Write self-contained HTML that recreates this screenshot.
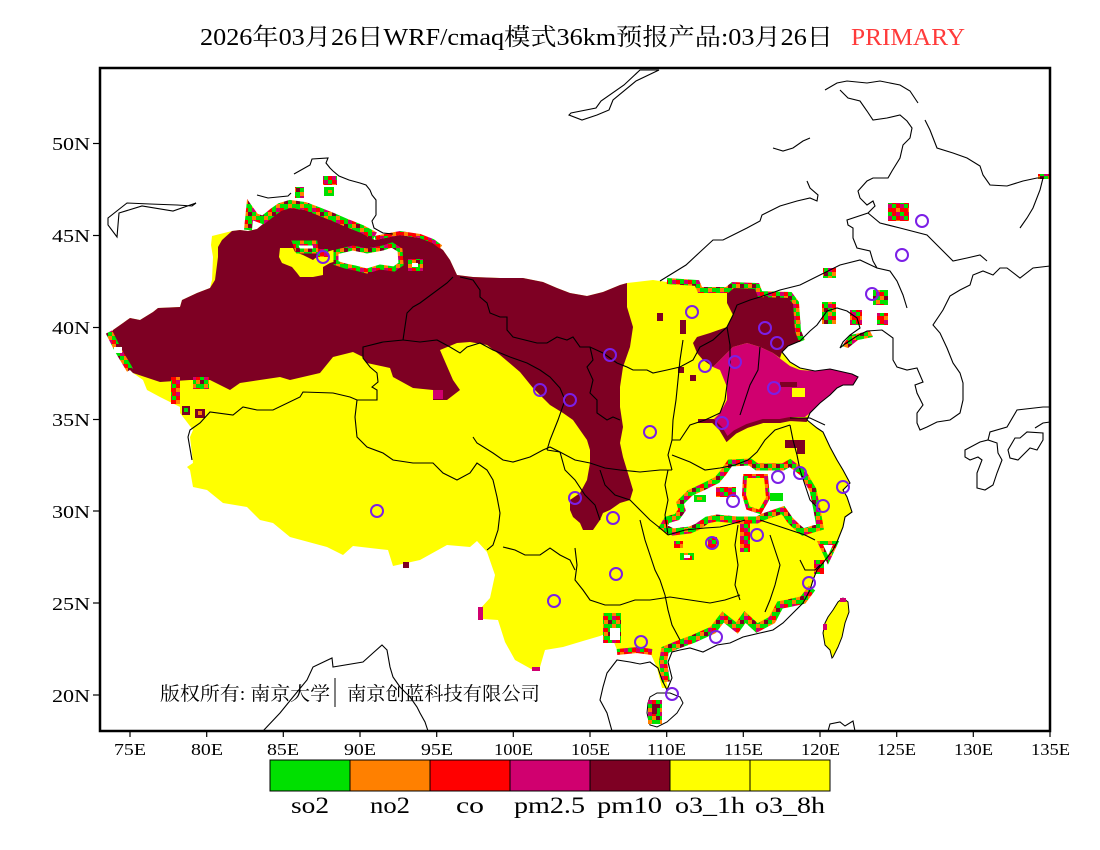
<!DOCTYPE html>
<html><head><meta charset="utf-8"><style>
html,body{margin:0;padding:0;background:#fff;}
svg{display:block;}
</style></head><body>
<svg width="1100" height="850" viewBox="0 0 1100 850" xmlns="http://www.w3.org/2000/svg">
<defs>
<pattern id="fr" width="12" height="12" patternUnits="userSpaceOnUse">
<rect width="12" height="12" fill="#00e000"/>
<rect x="0" y="0" width="4" height="4" fill="#ff8000"/>
<rect x="8" y="0" width="4" height="4" fill="#00e000"/>
<rect x="0" y="4" width="4" height="4" fill="#d0006f"/>
<rect x="4" y="4" width="4" height="4" fill="#ff0000"/>
<rect x="4" y="8" width="4" height="4" fill="#ff8000"/>
<rect x="8" y="8" width="4" height="4" fill="#7e0023"/>
</pattern>
<pattern id="fr2" width="12" height="12" patternUnits="userSpaceOnUse">
<rect width="12" height="12" fill="#ff0000"/>
<rect x="0" y="0" width="4" height="4" fill="#d0006f"/>
<rect x="4" y="0" width="4" height="4" fill="#00e000"/>
<rect x="8" y="4" width="4" height="4" fill="#ff8000"/>
<rect x="0" y="8" width="4" height="4" fill="#00e000"/>
<rect x="8" y="8" width="4" height="4" fill="#d0006f"/>
</pattern>
</defs>

<!-- outer colored region (yellow o3) -->
<polygon fill="#ffff00" points="110,338 113,330 123,323 130,318 140,320 153,312 158,308 180,307 182,300 197,293 210,288 212,280 213,257 211,245 212,236 232,231 240,230 248,231 257,229 263,224 273,216 280,211 290,208 305,210 318,215 333,221 347,227 362,233 375,240 390,237 400,235 420,238 433,243 443,250 450,260 457,275 473,277 500,278 523,278 543,282 557,288 570,293 587,296 603,292 620,285 627,283 653,280 667,282 697,284 700,291 727,291 733,286 757,287 761,296 790,297 795,304 797,331 800,341 788,346 782,352 790,362 800,368 815,371 830,369 852,374 858,377 853,385 843,385 837,388 830,395 820,403 810,413 807,420 817,428 823,432 830,447 837,460 843,470 850,483 843,490 847,497 852,512 845,517 843,527 837,542 833,550 823,563 817,570 813,580 810,590 803,598 790,600 780,602 772,617 757,625 745,614 737,625 723,614 713,627 693,636 677,642 665,647 662,660 666,680 668,688 662,688 657,668 650,652 637,648 617,650 610,632 600,636 583,641 563,647 545,650 540,667 533,670 515,660 505,642 498,620 483,619 479,610 490,598 495,575 487,552 477,541 470,547 447,545 420,560 393,566 388,550 353,546 343,555 327,547 290,537 273,523 260,520 247,507 223,503 207,490 193,487 190,470 187,467 193,463 190,437 193,430 180,413 180,407 160,397 147,390 143,380 133,373 127,367 113,343"/>
<polygon fill="#ffff00" points="246,222 248,208 251,207 252,222"/>

<!-- pm10 dark red main -->
<polygon fill="#7e0023" points="110,338 113,330 123,323 130,318 140,320 153,312 158,308 180,307 182,300 197,293 210,288 215,280 218,257 218,247 222,240 232,231 240,230 248,231 257,229 263,224 273,216 280,211 290,208 305,210 318,215 333,221 347,227 362,233 375,240 390,237 400,235 420,238 433,243 443,250 450,260 457,275 473,277 500,278 523,278 543,282 557,288 570,293 587,296 603,292 620,285 627,283 627,307 633,327 630,347 623,367 620,387 620,407 623,427 620,443 623,457 630,480 633,490 630,500 620,503 610,510 603,513 600,520 593,530 583,530 580,523 573,517 570,510 570,500 580,493 587,480 590,463 590,450 587,440 580,430 573,420 563,413 550,405 533,388 520,372 500,355 487,345 470,342 457,343 440,350 443,357 453,380 460,390 447,400 433,400 433,390 413,388 393,377 390,368 367,363 363,357 353,352 333,357 320,373 290,380 280,377 240,383 230,390 210,380 190,380 160,382 133,373 127,367 113,343"/>
<rect x="433" y="390" width="10" height="9" fill="#d0006f"/>

<!-- Junggar yellow & holes -->
<polygon fill="#ffff00" points="280,248 293,248 295,252 303,255 313,260 318,256 316,252 327,252 333,250 350,250 352,255 340,260 330,263 323,267 323,275 313,277 300,277 297,273 292,267 282,263 279,257"/>
<polygon fill="#fff" stroke="url(#fr)" stroke-width="5" points="336,252 353,248 367,251 383,248 392,245 400,250 401,264 394,269 380,267 367,271 355,268 345,266 336,263"/>
<polygon fill="#fff" stroke="url(#fr)" stroke-width="5" points="295,243 315,243 316,251 298,251"/>
<rect x="408" y="259" width="15" height="12" fill="url(#fr)"/>
<rect x="412" y="263" width="6" height="4" fill="#fff"/>
<rect x="318" y="249" width="10" height="8" fill="url(#fr2)"/>
<!-- north fringe -->
<polyline fill="none" stroke="url(#fr)" stroke-width="8" points="248,230 250,210 255,217 263,220 273,212 280,207 290,204 305,206 318,211 333,217 347,223 362,229 375,236"/>
<polyline fill="none" stroke="url(#fr2)" stroke-width="4" points="375,238 390,235 400,233 420,236 433,241 441,247"/>
<rect x="295" y="187" width="9" height="11" fill="url(#fr)"/>
<rect x="323" y="176" width="14" height="9" fill="url(#fr2)"/>
<rect x="324" y="187" width="10" height="9" fill="#00e000"/>
<rect x="328" y="190" width="4" height="3" fill="#ff8000"/>
<!-- west tip fringe -->
<polyline fill="none" stroke="url(#fr)" stroke-width="7" points="109,332 113,340 118,350 124,360 130,370"/>
<rect x="114" y="347" width="8" height="6" fill="#fff"/>
<rect x="171" y="377" width="9" height="27" fill="url(#fr2)"/>
<rect x="182" y="406" width="8" height="9" fill="#7e0023"/>
<rect x="184" y="408" width="4" height="4" fill="#00e000"/>
<rect x="193" y="377" width="16" height="12" fill="url(#fr)"/>
<rect x="195" y="409" width="10" height="9" fill="#7e0023"/>
<rect x="198" y="411" width="4" height="4" fill="#ff8000"/>
<rect x="403" y="562" width="6" height="6" fill="#7e0023"/>
<rect x="478" y="607" width="5" height="13" fill="#d0006f"/>
<rect x="532" y="667" width="8" height="4" fill="#d0006f"/>

<!-- NE pm10 -->
<polygon fill="#7e0023" points="727,291 733,286 757,287 761,296 790,297 795,304 797,331 800,341 788,346 782,352 780,358 773,353 760,347 747,343 733,347 723,357 713,367 703,360 697,353 693,343 697,337 710,333 727,327 733,315 727,303"/>
<rect x="657" y="313" width="6" height="8" fill="#7e0023"/>
<rect x="680" y="320" width="6" height="14" fill="#7e0023"/>
<rect x="678" y="367" width="6" height="6" fill="#7e0023"/>
<rect x="690" y="375" width="6" height="6" fill="#7e0023"/>
<!-- magenta pm2.5 -->
<polygon fill="#d0006f" points="723,357 733,347 747,343 760,347 773,353 782,360 790,366 800,370 815,371 830,369 852,374 858,377 853,385 843,385 837,388 830,395 820,403 810,413 805,417 790,417 780,420 763,420 747,427 735,433 727,440 720,430 713,420 720,413 727,400 727,387 720,370 713,367"/>
<polyline fill="none" stroke="#7e0023" stroke-width="4" points="698,421 713,421 721,429 727,439 735,432 747,426 763,421 780,421 790,419 807,420"/>
<rect x="780" y="382" width="17" height="5" fill="#7e0023"/>
<rect x="792" y="388" width="13" height="9" fill="#ffff00"/>
<rect x="785" y="440" width="20" height="8" fill="#7e0023"/>
<rect x="797" y="448" width="8" height="6" fill="#7e0023"/>
<!-- NE fringe -->
<polyline fill="none" stroke="url(#fr)" stroke-width="6" points="667,281 697,283 700,290 727,290 733,285 757,286 760,294 790,295 796,303 798,331 802,341"/>
<rect x="823" y="268" width="13" height="10" fill="url(#fr)"/>
<rect x="888" y="203" width="21" height="18" fill="url(#fr2)"/>
<rect x="873" y="290" width="15" height="15" fill="url(#fr)"/>
<rect x="877" y="313" width="11" height="12" fill="url(#fr2)"/>
<rect x="822" y="302" width="14" height="22" fill="url(#fr)"/>
<rect x="850" y="310" width="12" height="15" fill="url(#fr2)"/>
<polygon fill="url(#fr)" points="842,346 850,335 870,331 873,337 858,340 848,348"/>
<rect x="1038" y="174" width="12" height="5" fill="url(#fr)"/>

<!-- Yangtze white areas -->
<polygon fill="#fff" stroke="url(#fr)" stroke-width="7" points="730,463 750,462 757,467 783,467 790,463 803,473 813,490 817,510 820,527 803,532 797,527 790,520 783,510 763,517 757,520 737,520 717,518 707,520 697,527 690,530 673,532 663,527 667,520 677,517 682,510 680,503 690,493 703,487 717,480 723,473"/>
<polygon fill="#ffff00" stroke="url(#fr2)" stroke-width="4" points="745,476 766,476 768,498 760,512 748,508 744,495"/>
<rect x="716" y="487" width="20" height="10" fill="url(#fr2)"/>
<rect x="694" y="495" width="12" height="7" fill="#00e000"/>
<rect x="770" y="493" width="13" height="8" fill="#00e000"/>
<rect x="697" y="497" width="5" height="3" fill="#ff8000"/>
<polygon fill="#fff" stroke="url(#fr)" stroke-width="4" points="820,543 836,543 828,560"/>
<rect x="814" y="560" width="10" height="14" fill="url(#fr2)"/>
<rect x="740" y="520" width="10" height="32" fill="url(#fr2)"/>
<rect x="680" y="553" width="14" height="7" fill="url(#fr)"/>
<rect x="684" y="555" width="6" height="3" fill="#fff"/>
<rect x="674" y="541" width="9" height="7" fill="url(#fr2)"/>
<rect x="708" y="537" width="9" height="11" fill="url(#fr2)"/>
<rect x="603" y="613" width="18" height="30" fill="url(#fr)"/>
<rect x="610" y="628" width="10" height="12" fill="#fff"/>
<!-- south coast fringe -->
<polyline fill="none" stroke="url(#fr)" stroke-width="8" points="812,588 803,600 790,603 780,605 772,620 757,628 745,617 737,628 723,617 713,630 693,639 677,645 665,650 663,662 666,682"/>
<polyline fill="none" stroke="url(#fr2)" stroke-width="6" points="652,652 637,650 617,652"/>

<!-- Taiwan -->
<polygon fill="#ffff00" stroke="#000" stroke-width="1" points="843,598 848,602 849,612 845,623 842,637 838,647 833,657 832,658 830,650 825,645 823,633 825,623 828,617 833,610 838,602"/>
<rect x="840" y="598" width="6" height="4" fill="#d0006f"/>
<rect x="823" y="624" width="4" height="6" fill="#d0006f"/>
<!-- Hainan -->
<polygon fill="#fff" stroke="#000" stroke-width="1" points="648,703 650,697 657,693 670,693 680,697 683,703 677,713 667,722 657,727 650,725 647,713"/>
<rect x="648" y="700" width="14" height="24" fill="url(#fr)"/>
<rect x="652" y="704" width="5" height="10" fill="#7e0023"/>

<!-- black lines -->
<g fill="none" stroke="#000" stroke-width="1.1">
<polyline points="800,341 788,346 782,352 790,362 800,368 815,371 830,369 852,374 858,377 853,385 843,385 837,388 830,395 820,403 810,413 807,420 817,428 823,432 830,447 837,460 843,470 850,483 843,490 847,497 852,512 845,517 843,527 837,542 833,550 823,563 817,570 813,580 810,590 803,603 793,613 783,623 773,630 760,633 743,637 730,643 717,645 703,652 690,648 680,650 672,652 668,662 672,678 667,690 662,680 658,668 650,662 640,664 630,662 617,660 607,673 603,687 600,700 607,713 612,731"/>
<polyline points="800,341 810,331 817,325 827,311 837,308 847,311 857,318 860,328 850,335 843,342 840,348 845,344 857,336 867,331 882,330 893,338 893,360 897,367 907,370 917,368 923,382 915,385 917,393 923,405 917,413 917,423 920,430 927,427 937,422 950,420 960,413 963,400 963,383 960,373 953,363 947,348 940,333 933,325 943,310 950,296 960,290 970,285 973,275 983,271 993,275 1000,268 1007,268 1020,278 1033,268 1050,266"/>
<polygon points="965,450 980,442 988,440 997,443 998,453 1002,460 997,473 993,485 985,490 977,488 977,473 982,460 978,457 970,460 965,457"/>
<polyline points="988,440 990,432 1007,427 1017,410 1043,407 1050,407"/>
<polygon points="1008,450 1010,458 1018,460 1030,448 1037,450 1043,440 1043,433 1027,432 1020,438 1015,438"/>
<polyline points="1050,422 1043,423 1035,428"/>
<polyline points="828,731 830,724 840,722 845,726 853,721 855,731"/>
<polyline points="263,731 280,713 293,697 307,680 313,667 332,658 333,667 363,662 373,653 382,645 387,650 390,667 393,677 400,687 410,697 417,707 420,713 425,722 428,731"/>
<polygon points="127,203 108,218 108,225 117,237 119,213 142,206 173,211 196,203 192,206 177,205 150,204"/>
<polyline points="257,195 268,198 288,196 291,193"/>
<polyline points="294,174 310,165 312,159 328,158 326,163 330,168 333,171 339,176 349,180 360,183 366,185 370,190 372,195 376,200 376,215 372,221 374,228 383,233 393,234"/>
<polygon points="640,70 624,85 601,101 596,108 571,113 569,115 582,120 597,115 609,110 613,100 636,81 659,70"/>
<polyline points="660,281 686,265 700,252 713,240 723,240 733,235 747,228 760,221 762,215 780,206 797,201 810,198 817,201 818,195 810,188 807,181"/>
<polyline points="773,148 783,151 793,148 803,141 810,138"/>
<polyline points="825,90 837,83 847,81 867,83 880,81 900,85 910,91 918,103"/>
<polyline points="840,90 848,98 860,101 867,111 873,120 887,118 900,115 907,121 912,128 910,138 903,145 900,158 892,171 888,178 873,178 867,181 858,191 860,198 867,205 873,201 875,206 868,213 847,220 848,225 853,228 853,238 857,248 870,251 873,261 877,268 890,271 897,281 903,295 907,308"/>
<polyline points="925,120 930,130 937,148 953,153 967,158 980,166 983,175 990,185 1007,186 1023,181 1037,178 1043,178 1040,190 1033,208 1027,218 1020,228"/>
<polyline points="868,213 880,223 900,228 927,235 933,241 940,248 953,261 967,258 980,255 987,261"/>
<polyline points="760,297 780,290 800,285 820,275 840,265 860,260 877,268"/>
<polyline points="453,277 447,283 420,303 413,307 407,313 403,340 383,342 363,347 363,358 370,367 377,373 378,382 372,387 377,390 377,400 357,400 350,397 333,393 303,392 300,397 273,410 257,410 243,407 233,415 210,412 200,423 190,430 188,437 192,460"/>
<polyline points="403,340 420,342 437,340 450,347 460,353 467,347 480,343 493,350 510,357 527,363 540,370 550,377 560,388 565,400 558,420 550,440 547,450"/>
<polyline points="357,400 355,417 357,437 367,447 383,453 393,460 413,463 433,463 443,473 457,480 470,473 477,463 487,470 493,480 497,497 500,513 498,530 493,545 487,550"/>
<polyline points="473,437 477,443 493,453 503,460 513,462 530,457 543,450 550,447 560,452"/>
<polyline points="460,277 473,280 480,290 480,297 487,303 490,313 500,317 507,317 507,330 513,337 537,343 547,343 557,337 567,340 573,337 580,347 590,347 603,353 617,363 627,367 633,370 647,370 653,373 667,370 680,367 693,360 700,347 713,340 727,327 733,315 737,305 750,300 760,297"/>
<polyline points="590,347 593,360 587,367 593,380 590,393 597,400 597,413 607,420 613,417 620,420"/>
<polyline points="547,450 560,452 575,460 590,463 605,468 620,470 640,472 660,470 672,470"/>
<polyline points="683,340 680,360 678,380 676,400 673,420 672,440 668,455 672,470"/>
<polyline points="727,327 730,345 730,365 727,385 725,400 720,413 705,420 690,425 680,440 672,440"/>
<polyline points="760,347 758,370 750,385 745,400 740,415"/>
<polyline points="672,455 690,462 705,470 720,468 735,465 748,460 757,452 765,440 775,430 790,425"/>
<polyline points="790,425 793,440 797,455 800,470 805,485 810,500 820,510"/>
<polyline points="790,418 810,418 825,425"/>
<polyline points="600,470 605,485 615,495 630,500 640,510 650,520 660,528 668,535"/>
<polyline points="503,547 515,550 525,555 540,555 550,548 560,555 570,560 575,570"/>
<polyline points="575,548 577,565 575,580 583,590 590,600 605,605 620,605 635,600 650,600"/>
<polyline points="640,520 645,540 650,555 655,570 660,580 665,595"/>
<polyline points="650,600 670,597 690,600 710,603 725,600 740,595"/>
<polyline points="668,535 685,530 705,528 720,527 735,523 745,520"/>
<polyline points="738,525 735,545 738,565 735,585 740,600"/>
<polyline points="770,535 775,550 780,565 775,585 770,600 765,612"/>
<polyline points="760,520 775,525 790,530 805,535 815,540"/>
<polyline points="800,560 805,570 815,570 820,565"/>
<polyline points="665,595 668,610 672,625 680,640"/>
<polyline points="668,470 665,485 668,500 665,515 668,535"/>
<polyline points="560,452 565,470 575,480 585,495 595,505 600,520"/>
</g>

<g fill="none" stroke="#7b1fe6" stroke-width="2">
<circle cx="323" cy="257" r="6"/><circle cx="540" cy="390" r="6"/><circle cx="570" cy="400" r="6"/>
<circle cx="610" cy="355" r="6"/><circle cx="692" cy="312" r="6"/><circle cx="765" cy="328" r="6"/>
<circle cx="777" cy="343" r="6"/><circle cx="735" cy="362" r="6"/><circle cx="705" cy="366" r="6"/>
<circle cx="774" cy="388" r="6"/><circle cx="722" cy="423" r="6"/><circle cx="650" cy="432" r="6"/>
<circle cx="575" cy="498" r="6"/><circle cx="613" cy="518" r="6"/><circle cx="778" cy="477" r="6"/>
<circle cx="800" cy="473" r="6"/><circle cx="733" cy="501" r="6"/><circle cx="843" cy="487" r="6"/>
<circle cx="823" cy="506" r="6"/><circle cx="757" cy="535" r="6"/><circle cx="712" cy="543" r="6"/>
<circle cx="616" cy="574" r="6"/><circle cx="554" cy="601" r="6"/><circle cx="809" cy="583" r="6"/>
<circle cx="716" cy="637" r="6"/><circle cx="641" cy="642" r="6"/><circle cx="672" cy="694" r="6"/>
<circle cx="377" cy="511" r="6"/><circle cx="922" cy="221" r="6"/><circle cx="902" cy="255" r="6"/>
<circle cx="872" cy="294" r="6"/>
</g>

<g font-family="'Liberation Serif','Noto Serif CJK SC',serif" font-size="19" fill="#000">
<text x="160" y="700" textLength="170" lengthAdjust="spacingAndGlyphs">版权所有: 南京大学</text>
<text x="347" y="700" textLength="193" lengthAdjust="spacingAndGlyphs">南京创蓝科技有限公司</text>
</g>
<line x1="335" y1="678" x2="335" y2="707" stroke="#000" stroke-width="1"/>

<rect x="100" y="68" width="950" height="663" fill="none" stroke="#000" stroke-width="2.5"/>
<g stroke="#000" stroke-width="1.2">
<line x1="93" y1="143.5" x2="100" y2="143.5"/><line x1="93" y1="235.5" x2="100" y2="235.5"/>
<line x1="93" y1="327.5" x2="100" y2="327.5"/><line x1="93" y1="419.5" x2="100" y2="419.5"/>
<line x1="93" y1="511" x2="100" y2="511"/><line x1="93" y1="603" x2="100" y2="603"/>
<line x1="93" y1="695" x2="100" y2="695"/>
<line x1="130" y1="731" x2="130" y2="737"/><line x1="206.7" y1="731" x2="206.7" y2="737"/>
<line x1="283.3" y1="731" x2="283.3" y2="737"/><line x1="360" y1="731" x2="360" y2="737"/>
<line x1="436.7" y1="731" x2="436.7" y2="737"/><line x1="513.3" y1="731" x2="513.3" y2="737"/>
<line x1="590" y1="731" x2="590" y2="737"/><line x1="666.7" y1="731" x2="666.7" y2="737"/>
<line x1="743.3" y1="731" x2="743.3" y2="737"/><line x1="820" y1="731" x2="820" y2="737"/>
<line x1="896.7" y1="731" x2="896.7" y2="737"/><line x1="973.3" y1="731" x2="973.3" y2="737"/>
<line x1="1050" y1="731" x2="1050" y2="737"/>
</g>
<g font-family="'Liberation Serif',serif" font-size="18" fill="#000">
<text x="52" y="150" textLength="38" lengthAdjust="spacingAndGlyphs">50N</text>
<text x="52" y="242" textLength="38" lengthAdjust="spacingAndGlyphs">45N</text>
<text x="52" y="334" textLength="38" lengthAdjust="spacingAndGlyphs">40N</text>
<text x="52" y="426" textLength="38" lengthAdjust="spacingAndGlyphs">35N</text>
<text x="52" y="518" textLength="38" lengthAdjust="spacingAndGlyphs">30N</text>
<text x="52" y="610" textLength="38" lengthAdjust="spacingAndGlyphs">25N</text>
<text x="52" y="702" textLength="38" lengthAdjust="spacingAndGlyphs">20N</text>
</g>
<g font-family="'Liberation Serif',serif" font-size="17" fill="#000">
<text x="114" y="755" textLength="32" lengthAdjust="spacingAndGlyphs">75E</text>
<text x="191" y="755" textLength="32" lengthAdjust="spacingAndGlyphs">80E</text>
<text x="267" y="755" textLength="32" lengthAdjust="spacingAndGlyphs">85E</text>
<text x="344" y="755" textLength="32" lengthAdjust="spacingAndGlyphs">90E</text>
<text x="421" y="755" textLength="32" lengthAdjust="spacingAndGlyphs">95E</text>
<text x="494" y="755" textLength="39" lengthAdjust="spacingAndGlyphs">100E</text>
<text x="571" y="755" textLength="39" lengthAdjust="spacingAndGlyphs">105E</text>
<text x="647" y="755" textLength="39" lengthAdjust="spacingAndGlyphs">110E</text>
<text x="724" y="755" textLength="39" lengthAdjust="spacingAndGlyphs">115E</text>
<text x="801" y="755" textLength="39" lengthAdjust="spacingAndGlyphs">120E</text>
<text x="877" y="755" textLength="39" lengthAdjust="spacingAndGlyphs">125E</text>
<text x="954" y="755" textLength="39" lengthAdjust="spacingAndGlyphs">130E</text>
<text x="1031" y="755" textLength="39" lengthAdjust="spacingAndGlyphs">135E</text>
</g>

<g stroke="#000" stroke-width="1">
<rect x="270" y="760" width="80" height="31" fill="#00e000"/>
<rect x="350" y="760" width="80" height="31" fill="#ff8000"/>
<rect x="430" y="760" width="80" height="31" fill="#ff0000"/>
<rect x="510" y="760" width="80" height="31" fill="#d0006f"/>
<rect x="590" y="760" width="80" height="31" fill="#7e0023"/>
<rect x="670" y="760" width="80" height="31" fill="#ffff00"/>
<rect x="750" y="760" width="80" height="31" fill="#ffff00"/>
</g>
<g font-family="'Liberation Serif',serif" font-size="23" fill="#000">
<text x="291" y="813" textLength="38" lengthAdjust="spacingAndGlyphs">so2</text>
<text x="370" y="813" textLength="40" lengthAdjust="spacingAndGlyphs">no2</text>
<text x="456" y="813" textLength="28" lengthAdjust="spacingAndGlyphs">co</text>
<text x="514" y="813" textLength="71" lengthAdjust="spacingAndGlyphs">pm2.5</text>
<text x="597" y="813" textLength="65" lengthAdjust="spacingAndGlyphs">pm10</text>
<text x="675" y="813" textLength="70" lengthAdjust="spacingAndGlyphs">o3_1h</text>
<text x="755" y="813" textLength="70" lengthAdjust="spacingAndGlyphs">o3_8h</text>
</g>

<text x="200" y="45" font-family="'Liberation Serif','Noto Serif CJK SC',serif" font-size="24" fill="#000" textLength="633" lengthAdjust="spacingAndGlyphs">2026年03月26日WRF/cmaq模式36km预报产品:03月26日</text>
<text x="851" y="45" font-family="'Liberation Serif',serif" font-size="24" fill="#ff3b3b" textLength="114" lengthAdjust="spacingAndGlyphs">PRIMARY</text>
</svg>
</body></html>
